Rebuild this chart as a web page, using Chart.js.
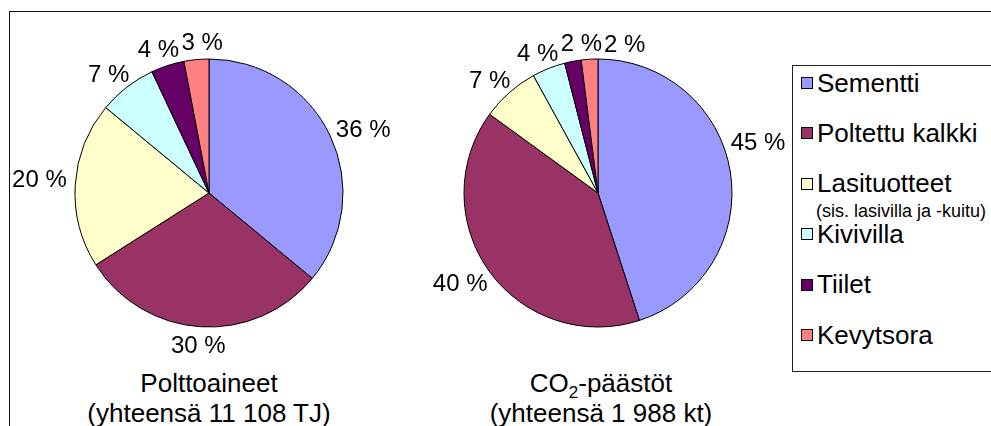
<!DOCTYPE html>
<html lang="fi">
<head>
<meta charset="utf-8">
<title>Polttoaineet ja CO2-päästöt</title>
<script src="https://cdn.jsdelivr.net/npm/chart.js@4.4.1/dist/chart.umd.min.js"></script>
<style>
  html, body { margin: 0; padding: 0; background: #fff; }
  body { width: 991px; height: 426px; position: relative; overflow: hidden;
         font-family: "Liberation Sans", Arial, sans-serif; color: #000; }
  .frame { position: absolute; left: 9px; top: 11px; width: 1100px; height: 600px;
           border: 1px solid #111; box-sizing: border-box; }
  canvas { position: absolute; }
  .title { position: absolute; width: 360px; text-align: center; font-size: 26px;
           line-height: 30px; white-space: nowrap; }
  .title sub { font-size: 17px; line-height: 0; vertical-align: -6px; }
  .legend { position: absolute; left: 792px; top: 65px; width: 400px; height: 307px;
            border: 1px solid #222; box-sizing: border-box; }
  .item { position: absolute; left: 8px; height: 30px; display: flex; align-items: center;
          font-size: 26px; white-space: nowrap; }
  .swatch { width: 10px; height: 10px; border: 1px solid #000; margin-right: 4px; flex: none; }
  .note { position: absolute; left: 23px; font-size: 18px; line-height: 20px; white-space: nowrap; }
</style>
</head>
<body>
<div class="frame"></div>
<canvas id="fuel" width="385" height="355" style="left:10px;top:12px"></canvas>
<canvas id="co2" width="388" height="355" style="left:400px;top:12px"></canvas>
<div class="title" style="left:29px;top:368px">Polttoaineet<br>(yhteensä 11 108 TJ)</div>
<div class="title" style="left:421px;top:368px">CO<sub>2</sub>-päästöt<br>(yhteensä 1 988 kt)</div>
<div class="legend" id="legend"></div>
<script>
// Product groups (legend order)
const categories = ['Sementti', 'Poltettu kalkki', 'Lasituotteet', 'Kivivilla', 'Tiilet', 'Kevytsora'];
const categoryNote = ['', '', '(sis. lasivilla ja -kuitu)', '', '', ''];
const colors = ['#9999FF', '#993366', '#FFFFCC', '#CCFFFF', '#660066', '#FF8080'];

// Shares, %
const fuelShares = [36, 30, 20, 7, 4, 3];
const co2Shares = [45, 40, 7, 4, 2, 2];

// Legend box
const legend = document.getElementById('legend');
categories.forEach((name, i) => {
  const centre = 17 + i * 50.4;           // row centre inside the box
  const row = document.createElement('div');
  row.className = 'item';
  row.style.top = (centre - 15) + 'px';
  const sw = document.createElement('span');
  sw.className = 'swatch';
  sw.style.background = colors[i];
  const tx = document.createElement('span');
  tx.textContent = name;
  row.appendChild(sw); row.appendChild(tx);
  legend.appendChild(row);
  if (categoryNote[i]) {
    const n = document.createElement('div');
    n.className = 'note';
    n.style.top = (centre + 17) + 'px';
    n.textContent = categoryNote[i];
    legend.appendChild(n);
  }
});

// Percentage labels placed just outside each slice, nudged around the rim
// when they would leave the canvas or overlap a label already placed.
const outsideLabels = {
  id: 'outsideLabels',
  afterDatasetsDraw(chart) {
    const ctx = chart.ctx;
    const meta = chart.getDatasetMeta(0);
    const data = chart.data.datasets[0].data;
    const fontPx = 24;
    const capH = fontPx * 0.716;
    const gap = 9;
    const W = chart.width, H = chart.height;
    ctx.save();
    ctx.font = fontPx + 'px "Liberation Sans", Arial, sans-serif';
    ctx.fillStyle = '#000';
    ctx.textAlign = 'center';
    ctx.textBaseline = 'alphabetic';
    const placed = [];
    meta.data.forEach((arc, i) => {
      const p = arc.getProps(['x', 'y', 'startAngle', 'endAngle', 'outerRadius'], true);
      const text = data[i] + '\u00a0%';
      const w = ctx.measureText(text).width;
      const mid = (p.startAngle + p.endAngle) / 2;
      const boxAt = (a) => {
        const c = Math.cos(a), s = Math.sin(a);
        const cx = p.x + (p.outerRadius + gap) * c + (w / 2) * c;
        const cy = p.y + (p.outerRadius + gap) * s + (capH / 2) * s;
        return { cx, cy, l: cx - w / 2, r: cx + w / 2, t: cy - capH / 2, b: cy + capH / 2 };
      };
      const ok = (bx) => {
        if (bx.l < 2 || bx.r > W - 2 || bx.t < 2 || bx.b > H - 2) return false;
        return placed.every(o => bx.r <= o.l || bx.l >= o.r || bx.b <= o.t || bx.t >= o.b);
      };
      let box = boxAt(mid);
      for (let k = 0; k <= 60; k++) {
        const tries = k === 0 ? [0] : [k, -k];
        let found = null;
        for (const d of tries) {
          const b = boxAt(mid + d * Math.PI / 180);
          if (ok(b)) { found = b; break; }
        }
        if (found) { box = found; break; }
      }
      placed.push(box);
      ctx.fillText(text, box.cx, box.cy + capH / 2);
    });
    ctx.restore();
  }
};

function makePie(id, values, padding) {
  return new Chart(document.getElementById(id), {
    type: 'pie',
    data: {
      labels: categories,
      datasets: [{
        data: values,
        backgroundColor: colors,
        borderColor: '#000',
        borderWidth: 1,
        radius: 134
      }]
    },
    options: {
      responsive: false,
      devicePixelRatio: 1,
      animation: false,
      layout: { padding },
      plugins: { legend: { display: false }, tooltip: { enabled: false } }
    },
    plugins: [outsideLabels]
  });
}

makePie('fuel', fuelShares, { left: 59, right: 46, top: 41, bottom: 34 });
makePie('co2', co2Shares, { left: 58, right: 50, top: 41, bottom: 34 });
</script>
</body>
</html>
